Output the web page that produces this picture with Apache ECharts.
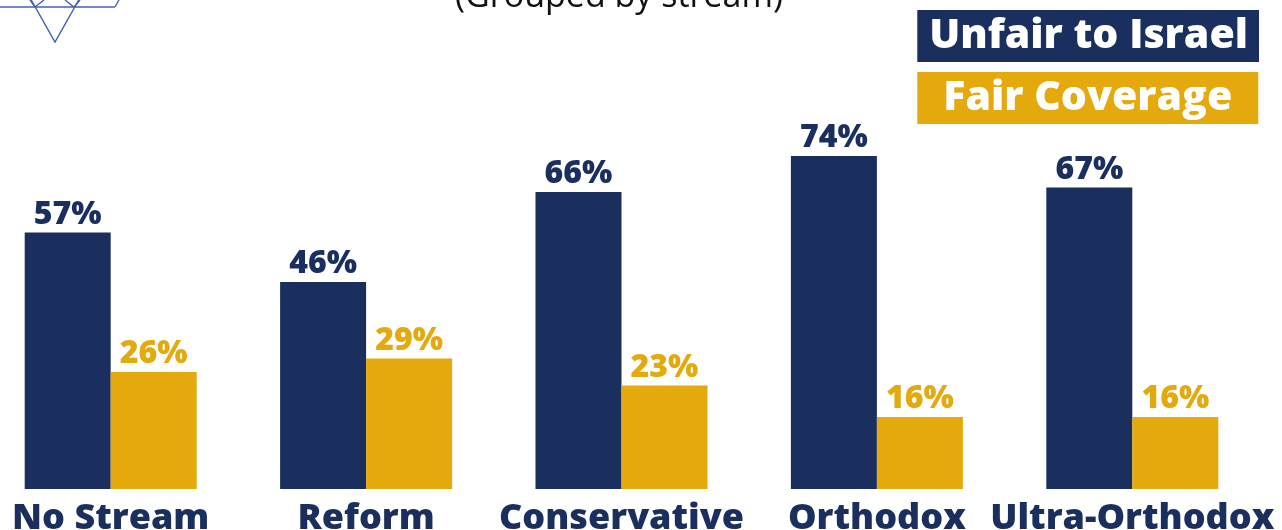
<!DOCTYPE html>
<html>
<head>
<meta charset="utf-8">
<script src="https://cdn.jsdelivr.net/npm/echarts@6/dist/echarts.min.js"></script>
<style>
  html, body { margin: 0; padding: 0; background: #fff; }
  #chart { width: 1282px; height: 530px; }
</style>
</head>
<body>
<div id="chart"></div>
<script>
// data
const streams = ['No Stream', 'Reform', 'Conservative', 'Orthodox', 'Ultra-Orthodox'];
const unfairToIsrael = [57, 46, 66, 74, 67];
const fairCoverage = [26, 29, 23, 16, 16];
const seriesNames = ['Unfair to Israel', 'Fair Coverage'];
const titleText = '(Grouped by stream)';

const NAVY = '#1b2f5f';
const GOLD = '#e4a90c';
const FONT = '"Open Sans", "Noto Sans", sans-serif';

const chart = echarts.init(document.getElementById('chart'), null, { renderer: 'canvas' });

// star of David logo, cut off at the top left
const logoColor = '#4463ad';
function logoLine(points) {
    return {
        type: 'polyline',
        shape: { points: points },
        style: { stroke: logoColor, lineWidth: 1.4, fill: null },
        silent: true
    };
}

const option = {
    animation: false,
    backgroundColor: '#ffffff',
    title: {
        text: titleText,
        left: 614,
        textAlign: 'center',
        top: -25,
        textStyle: { fontFamily: FONT, fontSize: 34, fontWeight: 'normal', color: '#111' }
    },
    legend: {
        orient: 'vertical',
        right: 23,
        top: 10,
        padding: 0,
        itemGap: 10,
        itemWidth: 0,
        itemHeight: 0,
        icon: 'none',
        selectedMode: false,
        data: [
            {
                name: seriesNames[0],
                textStyle: {
                    backgroundColor: NAVY, color: '#fff', fontFamily: FONT, fontSize: 41,
                    fontWeight: 800, padding: [6, 11, 6, 12], lineHeight: 40
                }
            },
            {
                name: seriesNames[1],
                textStyle: {
                    backgroundColor: GOLD, color: '#fff', fontFamily: FONT, fontSize: 41,
                    fontWeight: 800, padding: [6, 26, 6, 26], lineHeight: 40
                }
            }
        ]
    },
    grid: {
        left: -17,
        right: 22,
        top: 39,
        bottom: 41,
        containLabel: false,
        outerBoundsMode: 'none'
    },
    xAxis: {
        type: 'category',
        data: streams,
        axisLine: { show: false },
        axisTick: { show: false },
        axisLabel: {
            interval: 0,
            margin: 12,
            color: NAVY,
            fontFamily: FONT,
            fontSize: 36,
            fontWeight: 800
        }
    },
    yAxis: {
        type: 'value',
        min: 0,
        max: 100,
        show: false,
        splitLine: { show: false }
    },
    series: [
        {
            name: seriesNames[0],
            type: 'bar',
            data: unfairToIsrael,
            barWidth: 86,
            barGap: '0%',
            itemStyle: { color: NAVY },
            label: {
                show: true,
                position: 'top',
                distance: 2,
                formatter: '{c}%',
                color: NAVY,
                fontFamily: FONT,
                fontSize: 32,
                fontWeight: 800
            }
        },
        {
            name: seriesNames[1],
            type: 'bar',
            data: fairCoverage,
            barWidth: 86,
            barGap: '0%',
            itemStyle: { color: GOLD },
            label: {
                show: true,
                position: 'top',
                distance: 2,
                formatter: '{c}%',
                color: GOLD,
                fontFamily: FONT,
                fontSize: 32,
                fontWeight: 800
            }
        }
    ],
    graphic: [
        logoLine([[-4, 7], [115, 7]]),
        logoLine([[29, -4], [55, 42], [81, -4]]),
        logoLine([[119, 0], [115, 7]]),
        logoLine([[30, 0], [35, 7], [44, 0]]),
        logoLine([[65, 0], [74, 7], [80, 0]])
    ]
};

chart.setOption(option);
</script>
</body>
</html>
